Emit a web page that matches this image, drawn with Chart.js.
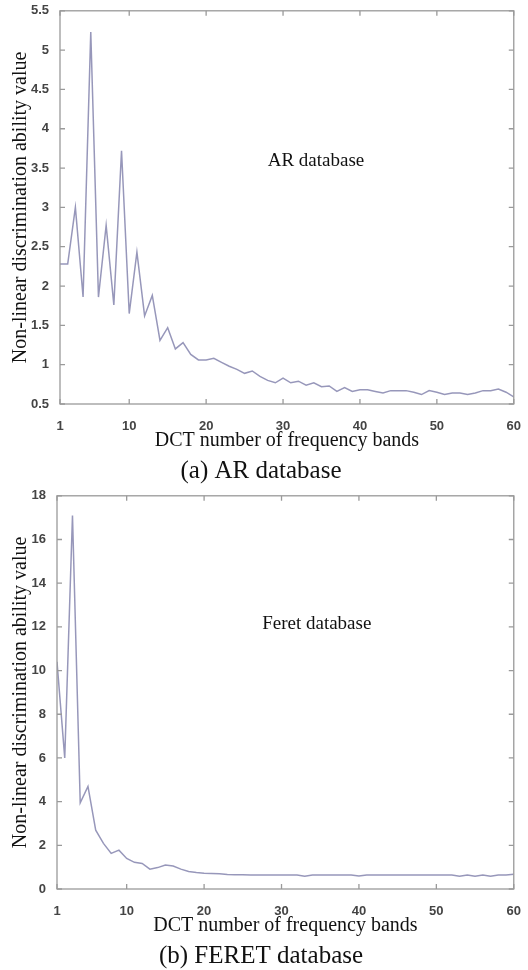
<!DOCTYPE html>
<html>
<head>
<meta charset="utf-8">
<script src="https://cdn.jsdelivr.net/npm/chart.js@4.4.1/dist/chart.umd.min.js"></script>
<style>
  html, body { margin: 0; padding: 0; background: #fff; }
  #wrap { position: relative; width: 528px; height: 970px; }
  canvas { position: absolute; left: 0; }
</style>
</head>
<body>
<div id="wrap">
  <canvas id="arChart" width="528" height="485" style="top:0px"></canvas>
  <canvas id="feretChart" width="528" height="485" style="top:485px"></canvas>
</div>
<script>
// valores (numero de bandas DCT 1..60)
var bandas = [1, 2, 3, 4, 5, 6, 7, 8, 9, 10,
  11, 12, 13, 14, 15, 16, 17, 18, 19, 20,
  21, 22, 23, 24, 25, 26, 27, 28, 29, 30,
  31, 32, 33, 34, 35, 36, 37, 38, 39, 40,
  41, 42, 43, 44, 45, 46, 47, 48, 49, 50,
  51, 52, 53, 54, 55, 56, 57, 58, 59, 60];

// (a) AR database
var valoresAR = [2.28, 2.28, 3.00, 1.86, 5.23, 1.86, 2.77, 1.76, 3.72, 1.65,
  2.43, 1.62, 1.88, 1.31, 1.47, 1.20, 1.28, 1.13, 1.06, 1.06,
  1.08, 1.03, 0.98, 0.94, 0.89, 0.92, 0.85, 0.80, 0.77, 0.83,
  0.77, 0.79, 0.74, 0.77, 0.72, 0.73, 0.66, 0.71, 0.66, 0.68,
  0.68, 0.66, 0.64, 0.67, 0.67, 0.67, 0.65, 0.62, 0.67, 0.65,
  0.62, 0.64, 0.64, 0.62, 0.64, 0.67, 0.67, 0.69, 0.65, 0.59];

// (b) FERET database
var valoresFeret = [10.4, 6.0, 17.1, 3.95, 4.70, 2.69, 2.09, 1.63, 1.78, 1.40,
  1.22, 1.17, 0.91, 0.98, 1.10, 1.05, 0.91, 0.80, 0.75, 0.72,
  0.71, 0.70, 0.66, 0.65, 0.65, 0.64, 0.64, 0.64, 0.64, 0.64,
  0.64, 0.64, 0.58, 0.64, 0.64, 0.64, 0.64, 0.64, 0.64, 0.60,
  0.64, 0.64, 0.64, 0.64, 0.64, 0.64, 0.64, 0.64, 0.64, 0.64,
  0.64, 0.64, 0.58, 0.64, 0.58, 0.64, 0.58, 0.64, 0.64, 0.68];

var ticksX = [1, 10, 20, 30, 40, 50, 60];
var ticksYAR = [0.5, 1, 1.5, 2, 2.5, 3, 3.5, 4, 4.5, 5, 5.5];
var ticksYFeret = [0, 2, 4, 6, 8, 10, 12, 14, 16, 18];

var tituloX = 'DCT number of frequency bands';
var tituloY = 'Non-linear discrimination ability value';

// moldura estilo matlab com marcas para dentro + texto dentro do grafico
var caixaPlugin = {
  id: 'caixa',
  afterDatasetsDraw: function (chart, args, opts) {
    var ctx = chart.ctx;
    var a = chart.chartArea;
    var sx = chart.scales.x;
    var sy = chart.scales.y;
    ctx.save();
    ctx.strokeStyle = '#9a9a9a';
    ctx.lineWidth = 1.3;
    ctx.strokeRect(a.left, a.top, a.right - a.left, a.bottom - a.top);
    ctx.beginPath();
    sx.ticks.forEach(function (t) {
      var px = sx.getPixelForValue(t.value);
      ctx.moveTo(px, a.bottom); ctx.lineTo(px, a.bottom - 5);
      ctx.moveTo(px, a.top); ctx.lineTo(px, a.top + 5);
    });
    sy.ticks.forEach(function (t) {
      var py = sy.getPixelForValue(t.value);
      ctx.moveTo(a.left, py); ctx.lineTo(a.left + 5, py);
      ctx.moveTo(a.right, py); ctx.lineTo(a.right - 5, py);
    });
    ctx.stroke();

    var nota = opts.nota;
    ctx.font = '19px "Liberation Serif"';
    ctx.fillStyle = '#111';
    ctx.textAlign = 'left';
    ctx.textBaseline = 'alphabetic';
    ctx.fillText(nota.texto, sx.getPixelForValue(nota.x), sy.getPixelForValue(nota.y));
    ctx.restore();
  }
};

var fonteTicks = { family: 'Liberation Sans', size: 13, weight: 'bold' };

function criarGrafico(id, valores, ticksY, larguraY, nota, legenda) {
  var pontos = bandas.map(function (b, i) { return { x: b, y: valores[i] }; });
  var ctx = document.getElementById(id).getContext('2d');
  return new Chart(ctx, {
    type: 'line',
    data: {
      datasets: [{
        data: pontos,
        borderColor: 'rgba(140, 140, 178, 0.9)',
        borderWidth: 1.5,
        pointRadius: 0,
        tension: 0,
        fill: false
      }]
    },
    options: {
      responsive: false,
      animation: false,
      devicePixelRatio: 1,
      layout: { padding: { left: 0, right: 6, top: 10, bottom: 1 } },
      plugins: {
        legend: { display: false },
        tooltip: { enabled: false },
        title: {
          display: true,
          position: 'bottom',
          text: legenda,
          color: '#111',
          font: { family: 'Liberation Serif', size: 25, weight: 'normal', lineHeight: 1 },
          padding: 0
        },
        caixa: { nota: nota }
      },
      scales: {
        x: {
          type: 'linear',
          min: ticksX[0],
          max: ticksX[ticksX.length - 1],
          afterBuildTicks: function (s) { s.ticks = ticksX.map(function (v) { return { value: v }; }); },
          afterFit: function (s) { s.height = 55; },
          grid: { display: false },
          border: { display: false },
          ticks: {
            autoSkip: false, maxRotation: 0, padding: 7, color: '#444', font: fonteTicks,
            callback: function (v) { return String(v); }
          },
          title: {
            display: true, text: tituloX, color: '#111',
            font: { family: 'Liberation Serif', size: 20 },
            padding: { top: 0, bottom: 6 }
          }
        },
        y: {
          type: 'linear',
          min: ticksY[0],
          max: ticksY[ticksY.length - 1],
          afterBuildTicks: function (s) { s.ticks = ticksY.map(function (v) { return { value: v }; }); },
          afterFit: function (s) { s.width = larguraY; },
          grid: { display: false },
          border: { display: false },
          ticks: {
            padding: 3, color: '#444', font: fonteTicks,
            callback: function (v) { return String(v); }
          },
          title: {
            display: true, text: tituloY, color: '#111',
            font: { family: 'Liberation Serif', size: 20 },
            padding: { top: 9, bottom: 0 }
          }
        }
      }
    },
    plugins: [caixaPlugin]
  });
}

criarGrafico('arChart', valoresAR, ticksYAR, 60,
  { texto: 'AR database', x: 28.0, y: 3.53 }, '(a) AR database');
criarGrafico('feretChart', valoresFeret, ticksYFeret, 57,
  { texto: 'Feret database', x: 27.5, y: 11.9 }, '(b) FERET database');
</script>
</body>
</html>
